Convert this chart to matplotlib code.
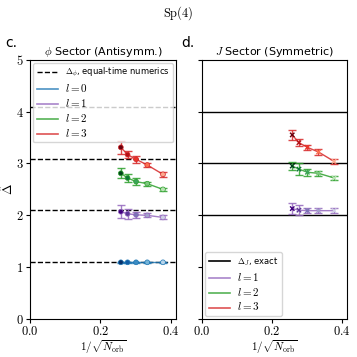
import numpy as np
import matplotlib.pyplot as plt
from matplotlib.ticker import FuncFormatter

plt.rcParams['mathtext.fontset'] = 'cm'
plt.rcParams['font.size'] = 8

# data
n_orb = np.array([15, 13, 11, 9, 7])
x = 1 / np.sqrt(n_orb)

delta_phi = 1.095
phi_l = [0, 1, 2, 3]
phi_vals = [
    [1.095, 1.095, 1.095, 1.095, 1.095],
    [2.07, 2.03, 2.01, 2.00, 1.96],
    [2.81, 2.72, 2.65, 2.61, 2.50],
    [3.31, 3.17, 3.08, 2.97, 2.79],
]
phi_errs = [
    [0.01, 0.01, 0.01, 0.01, 0.01],
    [0.12, 0.10, 0.06, 0.04, 0.04],
    [0.10, 0.07, 0.07, 0.04, 0.03],
    [0.12, 0.07, 0.07, 0.04, 0.05],
]

delta_J = 2.0
J_l = [1, 2, 3]
J_vals = [
    [2.13, 2.10, 2.09, 2.09, 2.09],
    [2.95, 2.89, 2.83, 2.81, 2.72],
    [3.55, 3.40, 3.31, 3.22, 3.04],
]
J_errs = [
    [0.11, 0.09, 0.05, 0.05, 0.05],
    [0.08, 0.11, 0.07, 0.05, 0.04],
    [0.10, 0.07, 0.05, 0.05, 0.05],
]

line_cols = {0: 'tab:blue', 1: 'tab:purple', 2: 'tab:green', 3: 'tab:red'}
cmaps = {0: 'Blues', 1: 'Purples', 2: 'Greens', 3: 'Reds'}

fig = plt.figure(figsize=(3.57, 3.57), dpi=100)
ax1 = fig.add_axes([0.084, 0.106, 0.409, 0.727])
ax2 = fig.add_axes([0.566, 0.106, 0.406, 0.727])

fmt = FuncFormatter(lambda v, p: r'$%d$' % v)
fmt_x = FuncFormatter(lambda v, p: r'$%.1f$' % v)

# phi sector
for l in phi_l:
    ax1.axhline(delta_phi + l, color='k', ls='--', lw=1, zorder=1)
for k, l in enumerate(phi_l):
    c = line_cols[l]
    ax1.errorbar(x, phi_vals[k], yerr=phi_errs[k], color=c, lw=1, ecolor=c,
                 elinewidth=1, capsize=3, alpha=0.85, zorder=2)
    shades = plt.get_cmap(cmaps[l])(np.linspace(1.0, 0.3, len(x)))
    ax1.scatter(x, phi_vals[k], c=shades, s=12, edgecolors=c, linewidths=0.5, zorder=3)

h = [plt.Line2D([], [], color='k', ls='--', lw=1)]
h += [plt.Line2D([], [], color=line_cols[l], lw=1.2, alpha=0.8) for l in phi_l]
lab = [r'$\Delta_\phi$, equal-time numerics'] + [r'$l=%d$' % l for l in phi_l]
leg = ax1.legend(h, lab, loc='upper left', fontsize=6, handlelength=2.6,
                 borderaxespad=0.4, labelspacing=0.35)
for t in leg.get_texts()[1:]:
    t.set_fontsize(8)

ax1.set_xlim(0, 0.415)
ax1.set_ylim(0, 5)
ax1.set_xticks([0, 0.2, 0.4])
ax1.set_yticks([0, 1, 2, 3, 4, 5])
ax1.xaxis.set_major_formatter(fmt_x)
ax1.yaxis.set_major_formatter(fmt)
ax1.set_xlabel(r'$1/\sqrt{N_{\rm orb}}$', fontsize=8, labelpad=0)
ax1.set_ylabel(r'$\hat{\Delta}$', fontsize=9, labelpad=0)
ax1.set_title(r'$\phi$ Sector (Antisymm.)', fontsize=8, pad=3)

# J sector
for l in J_l:
    ax2.axhline(delta_J + l - 1, color='k', lw=1, zorder=1)
for k, l in enumerate(J_l):
    c = line_cols[l]
    ax2.errorbar(x, J_vals[k], yerr=J_errs[k], color=c, lw=1, ecolor=c,
                 elinewidth=1, capsize=3, alpha=0.85, zorder=2)
    shades = plt.get_cmap(cmaps[l])(np.linspace(1.0, 0.3, len(x)))
    ax2.scatter(x, J_vals[k], c=shades, s=10, marker='x', linewidths=1, zorder=3)

h = [plt.Line2D([], [], color='k', lw=1.2)]
h += [plt.Line2D([], [], color=line_cols[l], lw=1.2, alpha=0.8) for l in J_l]
lab = [r'$\Delta_J$, exact'] + [r'$l=%d$' % l for l in J_l]
leg = ax2.legend(h, lab, loc='lower left', fontsize=6, handlelength=2.6,
                 borderaxespad=0.4, labelspacing=0.35)
for t in leg.get_texts()[1:]:
    t.set_fontsize(8)

ax2.set_xlim(0, 0.415)
ax2.set_ylim(0, 5)
ax2.set_xticks([0, 0.2, 0.4])
ax2.set_yticks([0, 1, 2, 3, 4, 5])
ax2.xaxis.set_major_formatter(fmt_x)
ax2.set_yticklabels([])
ax2.set_xlabel(r'$1/\sqrt{N_{\rm orb}}$', fontsize=8, labelpad=0)
ax2.set_title(r'$J$ Sector (Symmetric)', fontsize=8, pad=3)

for ax in (ax1, ax2):
    ax.tick_params(labelsize=9, length=3, pad=1.5)

fig.text(0.5, 0.962, r'$\mathrm{Sp}(4)$', ha='center', va='center', fontsize=9)
fig.text(0.015, 0.88, 'c.', fontsize=10, va='center')
fig.text(0.508, 0.88, 'd.', fontsize=10, va='center')

fig.savefig('out.png', dpi=100)
